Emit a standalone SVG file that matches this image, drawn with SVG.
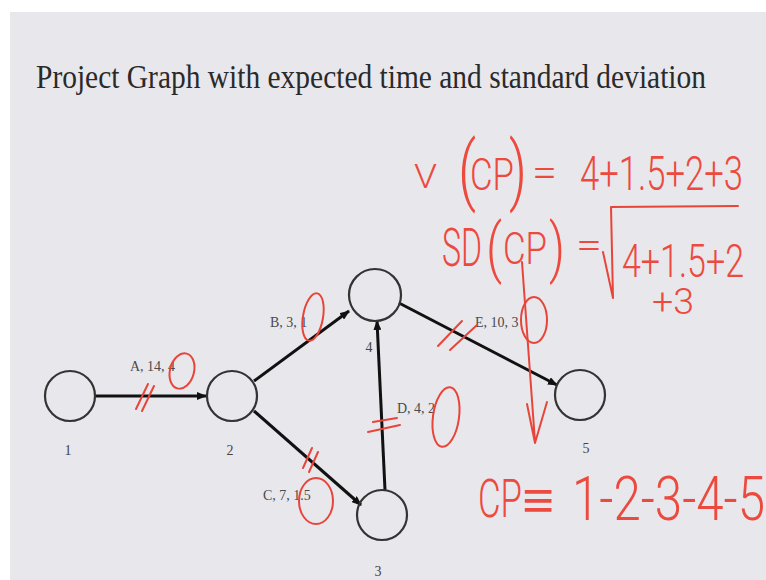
<svg xmlns="http://www.w3.org/2000/svg" width="766" height="580" viewBox="0 0 766 580">
<style>
.node{fill:none;stroke:#333;stroke-width:2.2}
.edge{stroke:#111;stroke-width:3;fill:none}
.lbl{font-family:"Liberation Serif",serif;font-size:14px;fill:#4a4a4a}
.num{font-family:"Liberation Serif",serif;font-size:14px;fill:#444;text-anchor:middle}
.red{stroke:#e8453a;stroke-width:2;fill:none;stroke-linecap:round;stroke-linejoin:round}
.hw{font-family:Roboto,"Liberation Sans",sans-serif;fill:#ec4a3e;font-weight:300}
</style>
<defs>
<marker id="ah" markerWidth="10" markerHeight="8" refX="9" refY="4" orient="auto" markerUnits="userSpaceOnUse">
<path d="M0,0 L10,4 L0,8 Z" fill="#111"/>
</marker>
</defs>
<rect x="0" y="0" width="766" height="580" fill="#ffffff"/>
<rect x="10" y="12" width="756" height="568" fill="#e8e7ec"/>
<text x="36" y="88" font-family="Liberation Serif, serif" font-size="34" fill="#2a2a2a" textLength="670" lengthAdjust="spacingAndGlyphs">Project Graph with expected time and standard deviation</text>

<g id="connectors">
<line class="edge" x1="95" y1="396" x2="206" y2="396" marker-end="url(#ah)"/>
<line class="edge" x1="254" y1="381" x2="349" y2="311" marker-end="url(#ah)"/>
<line class="edge" x1="254" y1="411" x2="361" y2="505" marker-end="url(#ah)"/>
<line class="edge" x1="385" y1="490" x2="377" y2="321" marker-end="url(#ah)"/>
<line class="edge" x1="399" y1="303" x2="557" y2="385" marker-end="url(#ah)"/>
<text class="lbl" x="130" y="371">A, 14, 4</text>
<text class="lbl" x="270" y="327">B, 3, 1</text>
<text class="lbl" x="263" y="500">C, 7, 1.5</text>
<text class="lbl" x="397" y="413">D, 4, 2</text>
<text class="lbl" x="475" y="327">E, 10, 3</text>
</g>

<g id="node1"><circle class="node" cx="70" cy="396" r="25"/><text class="num" x="68" y="455">1</text></g>
<g id="node2"><circle class="node" cx="232" cy="396" r="25"/><text class="num" x="230" y="455">2</text></g>
<g id="node4"><circle class="node" cx="375" cy="295" r="26"/><text class="num" x="369" y="352">4</text></g>
<g id="node3"><circle class="node" cx="382" cy="515" r="25"/><text class="num" x="378" y="576">3</text></g>
<g id="node5"><circle class="node" cx="580" cy="395" r="25"/><text class="num" x="586" y="453">5</text></g>

<g id="annotations">
<ellipse class="red" cx="182" cy="371" rx="12" ry="18" transform="rotate(15 182 371)"/>
<ellipse class="red" cx="313" cy="317" rx="10" ry="24" transform="rotate(10 313 317)"/>
<ellipse class="red" cx="316" cy="501" rx="17" ry="23"/>
<ellipse class="red" cx="446" cy="417" rx="13" ry="30" transform="rotate(8 446 417)"/>
<ellipse class="red" cx="534" cy="320" rx="13" ry="23"/>
<path class="red" d="M136 409 L148 384 M142 411 L154 386"/>
<path class="red" d="M303 468 L312 448 M309 472 L318 452"/>
<path class="red" d="M373 422 L397 418 M368 432 L400 425"/>
<path class="red" d="M438 346 L462 321 M450 350 L477 325"/>
<path class="red" d="M522 262 L535 442 M527 404 L535 443 L547 402"/>
<path class="red" d="M603 252 L613 298 L611 207 L738 206"/>

<text class="hw" x="414" y="188" font-size="34" textLength="23" lengthAdjust="spacingAndGlyphs">V</text>
<text class="hw" x="458" y="196" font-size="76" textLength="18" lengthAdjust="spacingAndGlyphs">(</text>
<text class="hw" x="470" y="190" font-size="44" textLength="44" lengthAdjust="spacingAndGlyphs">CP</text>
<text class="hw" x="509" y="196" font-size="76" textLength="18" lengthAdjust="spacingAndGlyphs">)</text>
<text class="hw" x="532" y="186" font-size="40" textLength="25" lengthAdjust="spacingAndGlyphs">=</text>
<text class="hw" x="580" y="190" font-size="48" textLength="163" lengthAdjust="spacingAndGlyphs">4+1.5+2+3</text>
<text class="hw" x="442" y="266" font-size="54" textLength="40" lengthAdjust="spacingAndGlyphs">SD</text>
<text class="hw" x="486" y="270" font-size="64" textLength="16" lengthAdjust="spacingAndGlyphs">(</text>
<text class="hw" x="503" y="264" font-size="44" textLength="44" lengthAdjust="spacingAndGlyphs">CP</text>
<text class="hw" x="549" y="270" font-size="64" textLength="16" lengthAdjust="spacingAndGlyphs">)</text>
<text class="hw" x="576" y="258" font-size="36" textLength="26" lengthAdjust="spacingAndGlyphs">=</text>
<text class="hw" x="622" y="277" font-size="46" textLength="122" lengthAdjust="spacingAndGlyphs">4+1.5+2</text>
<text class="hw" x="652" y="314" font-size="36" textLength="42" lengthAdjust="spacingAndGlyphs">+3</text>
<text class="hw" x="478" y="517" font-size="54" textLength="44" lengthAdjust="spacingAndGlyphs">CP</text>
<text class="hw" x="522" y="518" font-size="52" textLength="32" lengthAdjust="spacingAndGlyphs">≡</text>
<text class="hw" x="572" y="520" font-size="62" textLength="193" lengthAdjust="spacingAndGlyphs">1-2-3-4-5</text>
</g>
</svg>
